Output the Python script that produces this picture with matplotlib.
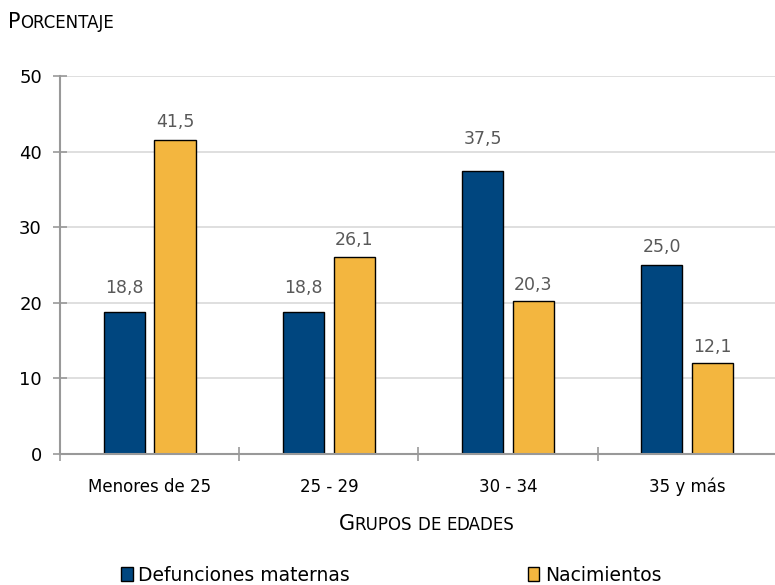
import numpy as np
import matplotlib.pyplot as plt
from matplotlib.offsetbox import TextArea, HPacker, AnchoredOffsetbox
from matplotlib.patches import Patch

grupos = ["Menores de 25", "25 - 29", "30 - 34", "35 y más"]
defunciones = [18.8, 18.8, 37.5, 25.0]
nacimientos = [41.5, 26.1, 20.3, 12.1]
series_names = ["Defunciones maternas", "Nacimientos"]

# separación (px) entre tope de barra y centro de la etiqueta, como en el original
sep_def = [24, 24, 32, 18]
sep_nac = [18, 17, 16, 16]

azul = "#00467f"
naranja = "#f3b63f"

plt.rcParams['font.family'] = ['DejaVu Sans']

fig = plt.figure(figsize=(7.75, 5.85), dpi=100)
ax = fig.add_axes([0.0774, 0.224, 0.925, 0.646])

x = np.arange(len(grupos))
w = 0.23
b1 = ax.bar(x - 0.142, defunciones, w, color=azul, edgecolor="black", linewidth=1)
b2 = ax.bar(x + 0.142, nacimientos, w, color=naranja, edgecolor="black", linewidth=1)

# etiquetas de valor con coma decimal
for bars, vals, seps in [(b1, defunciones, sep_def), (b2, nacimientos, sep_nac)]:
    for r, v, s in zip(bars, vals, seps):
        ax.annotate(f"{v:.1f}".replace(".", ","), (r.get_x() + r.get_width() / 2, v),
                    xytext=(0, s * 0.72), textcoords="offset points", ha="center", va="center",
                    fontsize=12.5, color="#595959")

ax.set_xlim(-0.5, 3.5)
ax.set_ylim(0, 50)
ax.set_yticks(range(0, 51, 10))
ax.set_xticks(np.arange(-0.5, 3.6, 1.0))
ax.set_xticklabels([])
ax.set_xticks(x, minor=True)
ax.set_xticklabels(grupos, minor=True, fontsize=12)
ax.tick_params(axis="x", which="minor", length=0, pad=17)
ax.tick_params(axis="x", which="major", direction="inout", length=10, color="#999999", width=1.2)
ax.tick_params(axis="y", direction="inout", length=10, color="#999999", width=1.2, labelsize=13, pad=8)

ax.grid(axis="y", color="#d9d9d9", linewidth=1.2)
ax.set_axisbelow(True)
for s in ["top", "right"]:
    ax.spines[s].set_visible(False)
for s in ["left", "bottom"]:
    ax.spines[s].set_color("#999999")
    ax.spines[s].set_linewidth(1.5)


def small_caps(text, big, small):
    parts = []
    for word in text.split(" "):
        if parts:
            parts.append(TextArea(" ", textprops=dict(fontsize=small)))
        first, rest = word[0], word[1:]
        if first.isupper():
            parts.append(TextArea(first, textprops=dict(fontsize=big)))
        else:
            parts.append(TextArea(first.upper(), textprops=dict(fontsize=small)))
        if rest:
            parts.append(TextArea(rest.upper(), textprops=dict(fontsize=small)))
    return HPacker(children=parts, align="baseline", pad=0, sep=0)


ylab = AnchoredOffsetbox(loc="lower left", child=small_caps("Porcentaje", 15, 12), frameon=False,
                         bbox_to_anchor=(0.01, 0.945), bbox_transform=fig.transFigure, pad=0, borderpad=0)
fig.add_artist(ylab)
xlab = AnchoredOffsetbox(loc="lower center", child=small_caps("Grupos de edades", 15, 12), frameon=False,
                         bbox_to_anchor=(0.55, 0.088), bbox_transform=fig.transFigure, pad=0, borderpad=0)
fig.add_artist(xlab)

handles = [Patch(facecolor=azul, edgecolor="black"), Patch(facecolor=naranja, edgecolor="black")]
fig.legend(handles, series_names, loc="lower center", bbox_to_anchor=(0.505, -0.028), ncol=2,
           frameon=False, fontsize=13.5, handlelength=0.6, handleheight=0.8, handletextpad=0.3,
           columnspacing=9.5)

fig.savefig("out.png", dpi=100)
